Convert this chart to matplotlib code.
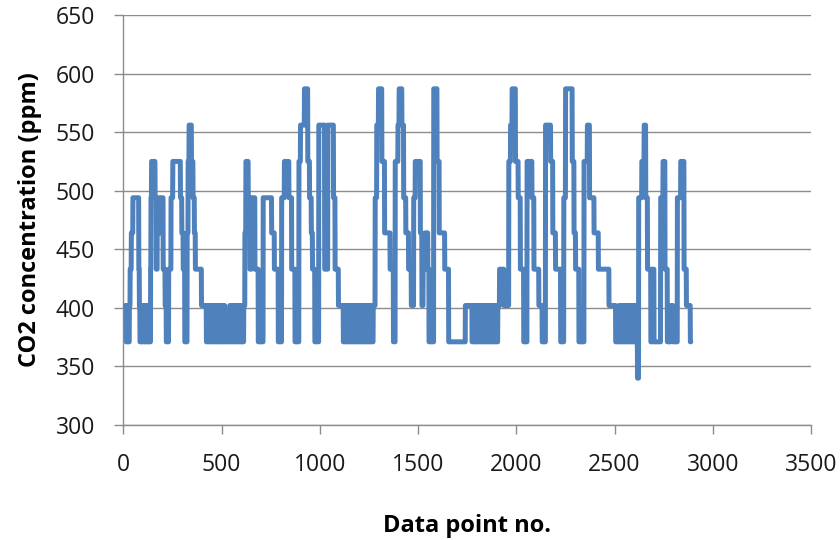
import numpy as np
import matplotlib
matplotlib.use("Agg")
import matplotlib.pyplot as plt

plt.rcParams['font.family'] = ['Open Sans', 'DejaVu Sans']

# Step levels (ppm) and how many data points each level lasts
x_first = 10
levels = [
    402, 371, 402, 371, 402,
    433, 464, 494, 433, 402,
    371, 402, 371, 402, 371, 402, 371, 402, 371, 402, 371,
    433, 494, 525, 494, 433, 494, 464, 494, 433, 402, 371, 433, 494, 525, 494, 464, 433,
    371, 464, 525, 556, 525, 494, 464, 433, 402,
    371, 402, 371, 402, 371, 402, 371, 402, 371, 402, 371, 402, 371, 402, 371, 402, 371, 402,
    371,
    402, 371, 402, 371, 402, 371, 402, 371, 402, 371, 402, 371, 402, 371, 402,
    464, 525, 494, 433, 494, 433, 371, 494, 464, 433, 371, 494, 525, 494, 433, 371, 525,
    556, 587, 525, 494, 464, 433, 371, 556, 433, 556, 494, 433, 402,
    371, 402, 371, 402, 371, 402, 371, 402, 371, 402, 371, 402, 371, 402, 371, 402, 371,
    402, 371, 402, 371, 402, 371, 402, 371, 402, 371, 402, 371, 402,
    494, 556, 587, 525, 464, 433, 371, 525, 556, 587, 556, 494, 464, 433, 402, 494, 525,
    464, 402, 433, 464, 433, 371, 587, 525, 464, 433, 371, 402,
    371, 402, 371, 402, 371, 402, 371, 402, 371, 402, 371, 402, 371, 402, 371, 402, 371,
    402, 371, 402, 371, 402, 371, 402, 371, 402,
    433, 402, 525, 556, 587, 525, 494, 433, 371, 525, 494, 433, 402, 371, 556, 525, 464,
    433, 371, 494, 587, 525, 464, 433, 371, 525, 556, 494, 464, 433, 402, 371,
    402, 371, 402, 371, 402, 371, 402, 371, 402, 371, 402, 371, 402, 371, 402, 371, 402, 371,
    340, 494, 525, 556, 494, 433, 371, 433, 371, 494, 525, 433, 371, 402, 371, 494, 525,
    433, 402, 371,
]
durations = [
    5, 6, 4, 6, 4,
    6, 8, 30, 3, 3,
    5, 4, 6, 5, 5, 4, 6, 5, 5, 4, 5,
    2, 3, 18, 6, 5, 12, 10, 8, 10, 6, 12, 12, 9, 39, 7, 7, 8,
    12, 5, 5, 12, 8, 7, 5, 31, 25,
    5, 6, 4, 5, 6, 5, 4, 6, 5, 5, 6, 4, 5, 6, 5, 4, 6, 7,
    25,
    5, 5, 6, 4, 5, 6, 5, 4, 6, 5, 5, 6, 4, 5, 6,
    5, 12, 9, 8, 17, 17, 25, 43, 14, 20, 17, 14, 23, 14, 17, 20, 8,
    20, 17, 9, 9, 6, 12, 20, 30, 16, 29, 8, 17, 25,
    5, 6, 5, 4, 6, 5, 5, 6, 4, 5, 6, 5, 6, 5, 4, 6, 5,
    6, 5, 5, 6, 4, 6, 5, 6, 5, 5, 6, 5, 10,
    8, 9, 17, 14, 28, 17, 9, 14, 6, 14, 9, 11, 14, 14, 12, 8, 26,
    8, 6, 10, 14, 6, 24, 17, 11, 28, 20, 85, 34,
    5, 6, 5, 4, 6, 5, 5, 6, 4, 5, 6, 5, 6, 5, 4, 6, 5,
    6, 5, 5, 6, 4, 6, 5, 6, 9,
    22, 25, 9, 8, 17, 14, 11, 17, 17, 25, 10, 25, 17, 17, 26, 11, 14,
    26, 16, 9, 34, 9, 8, 17, 26, 17, 11, 23, 22, 54, 34, 17,
    5, 6, 4, 5, 6, 5, 4, 6, 5, 5, 6, 4, 5, 6, 5, 4, 6, 7,
    6, 16, 12, 8, 9, 17, 8, 8, 34, 12, 10, 12, 17, 12, 22, 17, 17,
    12, 20, 3,
]
assert len(levels) == len(durations)

x_ticks = [0, 500, 1000, 1500, 2000, 2500, 3000, 3500]
y_ticks = [300, 350, 400, 450, 500, 550, 600, 650]

y = np.repeat(levels, durations)
x = x_first + np.arange(len(y))

fig = plt.figure(figsize=(8.4, 5.4), dpi=100)
ax = fig.add_axes([0.1468, 0.2130, 0.8187, 0.7592])

ax.plot(x, y, color='#4F81BD', lw=3.6, solid_joinstyle='round', solid_capstyle='round', zorder=3)

ax.set_xlim(0, 3500)
ax.set_ylim(300, 650)
ax.set_xticks(x_ticks)
ax.set_yticks(y_ticks)
ax.yaxis.grid(True, color='#8c8c8c', lw=1.0)
ax.set_axisbelow(True)

for s in ['top', 'right']:
    ax.spines[s].set_visible(False)
for s in ['left', 'bottom']:
    ax.spines[s].set_color('#8c8c8c')
    ax.spines[s].set_linewidth(1.0)

ax.tick_params(axis='both', direction='out', length=6.5, width=1.0, color='#8c8c8c',
               labelsize=16.5, labelcolor='#1a1a1a', pad=14)

ax.set_xlabel('Data point no.', fontsize=17, fontweight='bold', labelpad=26)
ax.set_ylabel('CO2 concentration (ppm)', fontsize=17, fontweight='bold', labelpad=10)

fig.savefig('out.png', dpi=100)
